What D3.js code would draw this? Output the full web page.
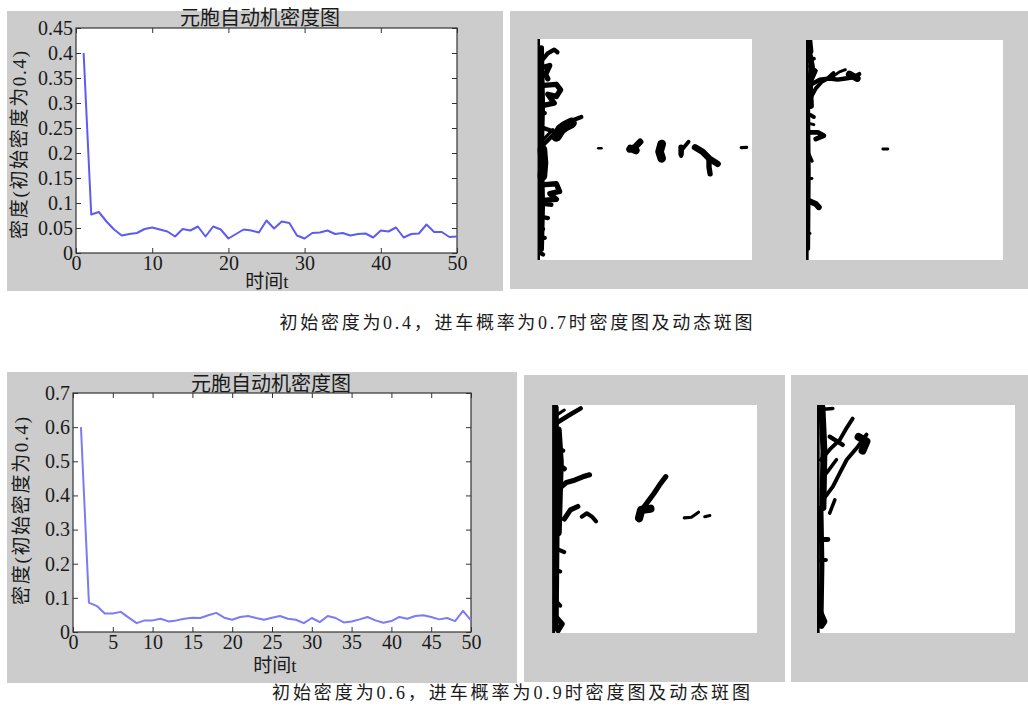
<!DOCTYPE html>
<html>
<head>
<meta charset="utf-8">
<script src="https://cdn.jsdelivr.net/npm/d3@7"></script>
<style>
  body { margin: 0; background: #fff; }
</style>
</head>
<body>
<div id="chart"></div>
<script>
// density curves, t = 1..50
const densityA = [0.400, 0.077, 0.082, 0.063, 0.047, 0.035, 0.038, 0.040, 0.048, 0.051,
                  0.047, 0.043, 0.033, 0.048, 0.045, 0.053, 0.033, 0.053, 0.047, 0.029,
                  0.038, 0.047, 0.045, 0.041, 0.065, 0.049, 0.063, 0.060, 0.035, 0.029,
                  0.040, 0.041, 0.045, 0.038, 0.040, 0.035, 0.038, 0.039, 0.031, 0.045,
                  0.043, 0.051, 0.031, 0.038, 0.039, 0.057, 0.042, 0.042, 0.032, 0.033];
const densityB = [0.600, 0.086, 0.076, 0.054, 0.054, 0.059, 0.042, 0.026, 0.034, 0.034,
                  0.039, 0.031, 0.034, 0.039, 0.042, 0.041, 0.049, 0.056, 0.042, 0.036,
                  0.044, 0.047, 0.041, 0.036, 0.042, 0.047, 0.039, 0.036, 0.026, 0.041,
                  0.029, 0.047, 0.041, 0.028, 0.031, 0.037, 0.044, 0.034, 0.027, 0.032,
                  0.044, 0.039, 0.047, 0.049, 0.044, 0.037, 0.041, 0.032, 0.062, 0.034];

const xTicksA = [0, 10, 20, 30, 40, 50];
const yTicksA = [0, 0.05, 0.1, 0.15, 0.2, 0.25, 0.3, 0.35, 0.4, 0.45];
const xTicksB = [0, 5, 10, 15, 20, 25, 30, 35, 40, 45, 50];
const yTicksB = [0, 0.1, 0.2, 0.3, 0.4, 0.5, 0.6, 0.7];

const chartTitle = "元胞自动机密度图";
const xLabel = "时间t";
const yLabel = "密度(初始密度为0.4)";
const captionA = "初始密度为0.4，进车概率为0.7时密度图及动态斑图";
const captionB = "初始密度为0.6，进车概率为0.9时密度图及动态斑图";

// spot patterns: polylines of occupied cells, coords in % of the lattice box, w = thickness
const spotsA1 = [
  { pts: [[0.8, 0], [0.8, 100]], w: 1.2 },
  { pts: [[2, 4], [2.5, 30], [2, 50], [2.5, 75], [2, 95]], w: 2.5 },
  { pts: [[2, 10], [5, 6.5], [8, 4.8], [9.5, 6]], w: 2 },
  { pts: [[2, 13], [5.9, 12], [4, 16], [5, 18]], w: 2.5 },
  { pts: [[3, 21], [9, 20.5], [11, 23], [9, 26], [5, 25], [8, 29], [3, 30]], w: 2.5 },
  { pts: [[2, 33], [3.6, 33.5]], w: 2 },
  { pts: [[2, 40], [6.7, 41.5]], w: 2 },
  { pts: [[2.8, 48], [8, 43], [12, 40], [16, 37], [20.6, 35.3]], w: 2 },
  { pts: [[9, 44], [11, 41], [13, 39.5], [16, 38]], w: 5 },
  { pts: [[2.8, 45.6], [7.4, 41]], w: 1.5 },
  { pts: [[2.5, 50], [3, 56], [2.5, 62]], w: 4.5 },
  { pts: [[2, 66], [9, 65.5], [10.5, 69], [6, 70], [9, 72.5], [3, 73]], w: 2.5 },
  { pts: [[2, 74.5], [6.7, 75]], w: 2 },
  { pts: [[2, 80.5], [5.1, 81]], w: 2 },
  { pts: [[2, 85.5], [2.8, 86]], w: 2 },
  { pts: [[2, 90], [3.6, 90]], w: 2 },
  { pts: [[2, 97], [2.8, 97.5]], w: 2 },
  { pts: [[28.5, 49.4], [30, 49.4]], w: 1.2 },
  { pts: [[43, 50], [45.5, 49], [48, 46.5]], w: 3 },
  { pts: [[43.5, 49.5], [46, 50.5]], w: 3.5 },
  { pts: [[58, 47.5], [57, 51], [58, 54]], w: 4 },
  { pts: [[67, 53], [67.5, 50], [70.5, 46.5]], w: 1.8 },
  { pts: [[67, 49], [67, 52]], w: 2.5 },
  { pts: [[73.5, 49], [77, 51], [80, 54], [84, 56.5]], w: 3 },
  { pts: [[80, 54], [80, 58], [80.5, 61]], w: 2.5 },
  { pts: [[95, 49.2], [97.5, 49]], w: 1.5 }
];
const spotsA2 = [
  { pts: [[0.6, 0], [0.6, 100]], w: 1.5 },
  { pts: [[1.5, 0.5], [2, 5]], w: 3.5 },
  { pts: [[1.5, 5], [3, 12], [2, 20], [2.5, 30]], w: 3 },
  { pts: [[1.2, 30], [1.5, 60], [1.2, 95]], w: 1.8 },
  { pts: [[2, 27], [5, 22], [8, 19], [11, 17.5], [14, 15]], w: 2 },
  { pts: [[3, 20], [7, 18], [12, 17.5], [16, 18], [20, 17.5], [24, 17], [27, 15.5]], w: 2.2 },
  { pts: [[13, 17], [17, 14.5], [20, 13.5]], w: 1.5 },
  { pts: [[22, 15.5], [26, 17.5]], w: 3.5 },
  { pts: [[2, 12], [5, 14], [3, 18]], w: 2 },
  { pts: [[2, 9], [4, 8.5]], w: 2 },
  { pts: [[2, 34], [4, 35]], w: 2 },
  { pts: [[2, 38], [4, 38.5]], w: 1.5 },
  { pts: [[2, 42], [6, 42], [9, 43.5], [5, 45]], w: 2.5 },
  { pts: [[1.5, 52], [3, 55]], w: 1.8 },
  { pts: [[1, 63], [3, 63]], w: 1.5 },
  { pts: [[1, 73], [5, 74.5], [6.5, 76]], w: 3 },
  { pts: [[1, 88], [2, 88]], w: 1.5 },
  { pts: [[39, 49.5], [41.5, 49.5]], w: 1.5 }
];
const spotsB1 = [
  { pts: [[0.8, 0], [0.8, 100]], w: 1.5 },
  { pts: [[2, 1], [2.5, 50], [2, 98]], w: 2.5 },
  { pts: [[2, 8], [8.5, 4.4], [14, 1.5]], w: 2.2 },
  { pts: [[1.3, 5], [6, 2.2]], w: 1.5 },
  { pts: [[3, 11], [4, 25], [3.5, 40], [3, 56]], w: 3.5 },
  { pts: [[3.7, 36.5], [7, 34], [11, 33], [15, 31.5], [18.3, 30.6]], w: 2.5 },
  { pts: [[3, 26], [6, 28]], w: 2.5 },
  { pts: [[3, 19], [5.5, 20]], w: 2 },
  { pts: [[6, 50], [9, 46], [12.6, 44.5]], w: 2.5 },
  { pts: [[14.5, 49], [17, 47.5], [19.5, 49], [21.5, 51]], w: 2 },
  { pts: [[42.5, 50.4], [45, 44.5], [47.5, 41.5], [49.8, 38.7], [52.5, 35], [55.5, 31.4]], w: 2.5 },
  { pts: [[42.5, 49.5], [43.5, 46], [48, 45.5]], w: 4 },
  { pts: [[64.5, 49.5], [68, 49.2], [71.5, 47]], w: 1.5 },
  { pts: [[74.5, 49], [77, 48.5]], w: 1.5 },
  { pts: [[2, 63], [6, 64.5]], w: 2 },
  { pts: [[2, 72.5], [4, 73]], w: 2 },
  { pts: [[2, 86], [4, 88]], w: 2 },
  { pts: [[2, 93], [5, 96], [3, 99]], w: 2.5 }
];
const spotsB2 = [
  { pts: [[0.6, 0], [0.6, 100]], w: 1.5 },
  { pts: [[2.5, 1], [3.5, 20], [3, 45]], w: 3.5 },
  { pts: [[2, 45], [2.5, 70], [2, 97]], w: 2.5 },
  { pts: [[1.5, 2], [8, 1.5]], w: 1.8 },
  { pts: [[2, 24], [7, 19], [11.5, 15.3], [15, 10], [18, 6]], w: 2 },
  { pts: [[3, 41.6], [8, 35.8], [12, 29], [15, 24], [20.7, 18.2], [25, 13]], w: 2 },
  { pts: [[21, 14], [25, 16], [23, 20]], w: 4 },
  { pts: [[6.4, 13.9], [13, 17.5]], w: 2.2 },
  { pts: [[4.7, 30], [9.8, 24]], w: 1.8 },
  { pts: [[6.4, 47.4], [9, 41.6]], w: 1.8 },
  { pts: [[2, 59], [5.5, 59]], w: 2.5 },
  { pts: [[2, 68], [4.5, 68]], w: 2 },
  { pts: [[2, 91], [4, 95], [2.5, 97]], w: 2.5 }
];

const serif = '"Liberation Serif", "Times New Roman", "Noto Sans CJK SC", serif';

const svg = d3.select("#chart").append("svg")
    .attr("width", 1028)
    .attr("height", 706);

const grey = "#cccccc";

function addText(parent, str, size) {
    return parent.append("text")
        .style("font-family", serif)
        .style("font-size", size + "px")
        .attr("fill", "#1a1a1a")
        .text(str);
}

function drawDensity(cfg) {
    const g = svg.append("g");
    g.append("rect")
        .attr("x", cfg.panel[0]).attr("y", cfg.panel[1])
        .attr("width", cfg.panel[2]).attr("height", cfg.panel[3])
        .attr("fill", grey);

    const [left, top, right, bottom] = cfg.box;
    const x = d3.scaleLinear().domain([0, 50]).range([left, right]);
    const y = d3.scaleLinear().domain([0, cfg.yMax]).range([bottom, top]);

    g.append("rect")
        .attr("x", left).attr("y", top)
        .attr("width", right - left).attr("height", bottom - top)
        .attr("fill", "#fff").attr("stroke", "#333").attr("stroke-width", 1.2);

    const fmt = v => String(v);
    const axes = [
        [d3.axisBottom(x).tickValues(cfg.xTicks).tickFormat(fmt), `translate(0,${bottom})`],
        [d3.axisTop(x).tickValues(cfg.xTicks).tickFormat(""), `translate(0,${top})`],
        [d3.axisLeft(y).tickValues(cfg.yTicks).tickFormat(fmt), `translate(${left},0)`],
        [d3.axisRight(y).tickValues(cfg.yTicks).tickFormat(""), `translate(${right},0)`]
    ];
    axes.forEach(([axis, tr]) => {
        const a = g.append("g").attr("transform", tr)
            .call(axis.tickSizeInner(-5).tickSizeOuter(0).tickPadding(3));
        a.select(".domain").remove();
        a.selectAll(".tick line").attr("stroke", "#333");
        a.selectAll(".tick text")
            .style("font-family", serif)
            .style("font-size", cfg.tickFont + "px")
            .attr("fill", "#1a1a1a");
    });

    const line = d3.line().x((d, i) => x(i + 1)).y(d => y(d));
    g.append("path")
        .datum(cfg.data)
        .attr("d", line)
        .attr("fill", "none")
        .attr("stroke", cfg.color)
        .attr("stroke-width", 2)
        .attr("stroke-linejoin", "round");

    addText(g, chartTitle, 20)
        .attr("x", cfg.titlePos[0]).attr("y", cfg.titlePos[1])
        .attr("text-anchor", "middle");

    addText(g, xLabel, 19)
        .attr("x", cfg.xLabelPos[0]).attr("y", cfg.xLabelPos[1])
        .attr("text-anchor", "middle");

    addText(g, yLabel, 19)
        .attr("transform", `translate(${cfg.yLabelPos[0]},${cfg.yLabelPos[1]}) rotate(-90)`)
        .attr("text-anchor", "middle")
        .attr("dy", "0.35em")
        .attr("textLength", 188).attr("lengthAdjust", "spacing");
}

function drawSpots(panel, box, spots, id) {
    const g = svg.append("g");
    g.append("rect")
        .attr("x", panel[0]).attr("y", panel[1])
        .attr("width", panel[2]).attr("height", panel[3])
        .attr("fill", grey);
    const [left, top, right, bottom] = box;
    g.append("rect")
        .attr("x", left).attr("y", top)
        .attr("width", right - left).attr("height", bottom - top)
        .attr("fill", "#fff");
    svg.append("clipPath").attr("id", id)
        .append("rect")
        .attr("x", left).attr("y", top)
        .attr("width", right - left).attr("height", bottom - top);

    const sx = d3.scaleLinear().domain([0, 100]).range([left, right]);
    const sy = d3.scaleLinear().domain([0, 100]).range([top, bottom]);
    const line = d3.line().x(d => sx(d[0])).y(d => sy(d[1]));

    g.append("g").attr("clip-path", `url(#${id})`)
        .selectAll("path")
        .data(spots)
        .join("path")
        .attr("d", d => line(d.pts))
        .attr("fill", "none")
        .attr("stroke", "#000")
        .attr("stroke-width", d => sx(d.w) - sx(0))
        .attr("stroke-linecap", "round")
        .attr("stroke-linejoin", "round");
}

// top row
drawDensity({
    panel: [7, 11, 496, 280], box: [76, 28, 457, 253],
    data: densityA, yMax: 0.45, xTicks: xTicksA, yTicks: yTicksA,
    color: "#5c5cf0", tickFont: 20,
    titlePos: [260, 25], xLabelPos: [267, 288], yLabelPos: [19, 145]
});
drawSpots([510, 11, 271, 278], [537, 39, 752, 260], spotsA1, "clipA1");
drawSpots([781, 11, 247, 278], [806, 40, 1003, 260], spotsA2, "clipA2");

addText(svg, captionA, 18)
    .attr("x", 516).attr("y", 329)
    .attr("text-anchor", "middle")
    .attr("textLength", 473).attr("lengthAdjust", "spacing");

// bottom row
drawDensity({
    panel: [7, 372, 510, 311], box: [73, 393, 471, 632],
    data: densityB, yMax: 0.7, xTicks: xTicksB, yTicks: yTicksB,
    color: "#7b7bf5", tickFont: 20,
    titlePos: [271, 391], xLabelPos: [275, 672], yLabelPos: [21, 511]
});
drawSpots([524, 375, 261, 307], [552, 405, 757, 633], spotsB1, "clipB1");
drawSpots([791, 375, 237, 307], [817, 405, 1015, 633], spotsB2, "clipB2");

addText(svg, captionB, 18)
    .attr("x", 511).attr("y", 699)
    .attr("text-anchor", "middle")
    .attr("textLength", 478).attr("lengthAdjust", "spacing");
</script>
</body>
</html>
